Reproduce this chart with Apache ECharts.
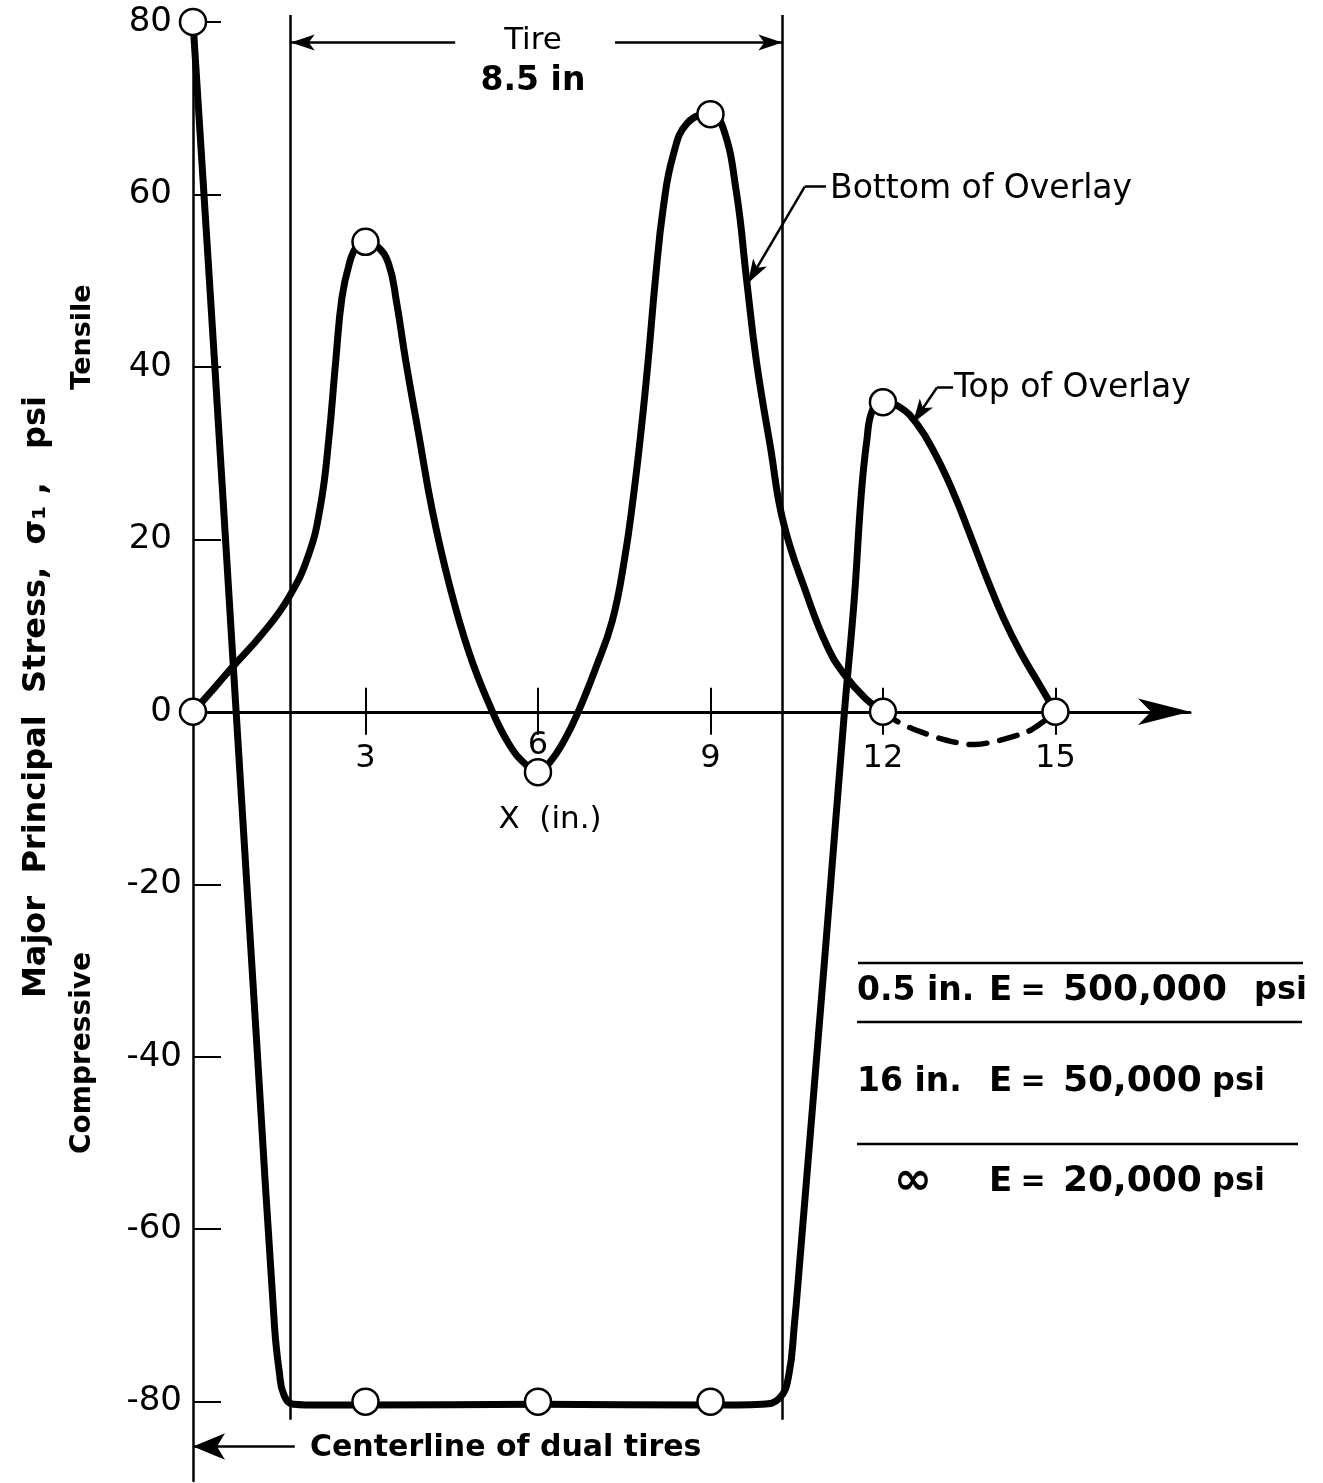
<!DOCTYPE html>
<html><head><meta charset="utf-8">
<script src="https://cdn.jsdelivr.net/npm/echarts@6/dist/echarts.min.js"></script>
<style>html,body{margin:0;padding:0;background:#fff}#c{width:1323px;height:1483px}</style>
</head><body><div id="c"></div>
<script>
// ---- data ----
const xTickValues = [3, 6, 9, 12, 15];
const yTickValues = [-80, -60, -40, -20, 0, 20, 40, 60, 80];
const yLabelsPos = [0, 20, 40, 60, 80];
const yLabelsNeg = [-80, -60, -40, -20];
const topOverlay = [
  [0,80],[0.38,40],[0.75,0],[1.1,-37.5],[1.42,-71.5],[1.5,-76.5],[1.58,-79.2],[1.75,-80.3],
  [2.2,-80.4],[3,-80.4],[6,-80.3],[9,-80.4],[9.9,-80.3],[10.2,-79.6],[10.36,-77],[10.46,-71],
  [10.55,-64],[11.0,-27.5],[11.33,0],[11.5,13],[11.62,25],[11.72,31.5],[11.82,35],[12,35.9],
  [12.3,35.3],[12.6,33.3],[12.9,30],[13.2,25.8],[13.5,20.8],[13.8,15.6],[14.1,10.8],
  [14.4,6.8],[14.7,3.4],[15,0]
];
const bottomOverlay = [
  [0,0],[0.35,2.6],[0.7,5.3],[1.2,9],[1.66,13.2],[2.01,18.2],[2.22,24],[2.36,31.5],[2.48,40.5],
  [2.59,48],[2.72,52],[2.85,54],[3,54.5],[3.2,54],[3.4,52],[3.54,47.5],[3.7,40.7],[3.93,32],
  [4.16,23.4],[4.46,14.7],[4.8,6.9],[5.15,0.9],[5.5,-3.8],[5.8,-6.2],[6,-7],[6.2,-5.9],
  [6.45,-3.4],[6.7,0],[7.0,5],[7.29,10.5],[7.5,17.5],[7.66,25],[7.8,33],[7.92,41],[8.04,50],
  [8.18,58.5],[8.35,64.5],[8.6,68.3],[9,69.3],[9.22,67.7],[9.45,60.3],[9.63,50],
  [9.8,40.6],[10.04,30.8],[10.27,21.9],[10.68,13.5],[11.03,7.6],[11.32,4.4],[11.7,1.5],[12,0]
];
const bottomOverlayDashed = [
  [12,0],[12.3,-1.3],[12.77,-2.6],[13.3,-3.6],[13.6,-3.8],[13.9,-3.5],[14.3,-2.8],[14.6,-2.0],[15,0]
];
const topMarkers = [[0,80],[3,-80],[6,-80],[9,-80],[12,35.9],[15,0]];
const bottomMarkers = [[0,0],[3,54.5],[6,-7],[9,69.3],[12,0]];
const tireEdges = [1.7, 10.25];
const layerRows = [
  ['0.5 in.', 'E', '=', '500,000', 'psi'],
  ['16 in.', 'E', '=', '50,000', 'psi'],
  ['\u221E', 'E', '=', '20,000', 'psi']
];

// ---- chart ----
const FF = '"DejaVu Sans"';
const chart = echarts.init(document.getElementById('c'), null, {renderer: 'canvas'});

const GRID_TOP = 15, GRID_BOTTOM = 2, H = 1483;
const Y_MIN = -89.2, Y_MAX = 80.8;
const gridH = H - GRID_TOP - GRID_BOTTOM;
const zeroPx = GRID_TOP + gridH * (Y_MAX / (Y_MAX - Y_MIN));

function curve(data, width, dash) {
  return {
    type: 'line', data: data, smooth: 0.45, symbol: 'none', showSymbol: false, silent: true,
    clip: false, z: 5,
    lineStyle: {color: '#000', width: width, type: dash || 'solid', cap: 'round', join: 'round'}
  };
}
function markers(data) {
  return {
    type: 'scatter', data: data, symbol: 'circle', symbolSize: 26, silent: true, clip: false, z: 10,
    itemStyle: {color: '#fff', borderColor: '#000', borderWidth: 2.5, opacity: 1}
  };
}
function seg(a, b, arrowEnd, size) {
  const end = {coord: b};
  if (arrowEnd) { end.symbol = 'arrow'; end.symbolSize = size || [12, 24]; }
  return [{coord: a, symbol: 'none'}, end];
}

const graphics = [];
function txt(text, x, y, size, weight, align, rot) {
  graphics.push({
    type: 'text', x: x, y: y, rotation: rot || 0, silent: true, z: 20,
    style: {text: text, fill: '#000', font: (weight || 'normal') + ' ' + size + 'px ' + FF,
      align: align || 'left', textAlign: align || 'left', verticalAlign: 'middle', textVerticalAlign: 'middle'}
  });
}
function rule(x1, x2, y) {
  graphics.push({type: 'line', silent: true, shape: {x1: x1, y1: y, x2: x2, y2: y},
    style: {stroke: '#000', lineWidth: 2.5}});
}

// axis titles
txt('Major  Principal  Stress,  \u03C3\u2081 ,   psi', 37, 697, 32, 'bold', 'center', Math.PI / 2);
txt('Tensile', 83, 337, 27, 'bold', 'center', Math.PI / 2);
txt('Compressive', 83, 1053, 28, 'bold', 'center', Math.PI / 2);
txt('X  (in.)', 550, 820, 31, 'normal', 'center');
// tire annotation
txt('Tire', 533, 41, 31, 'normal', 'center');
txt('8.5 in', 533, 81, 33, 'bold', 'center');
// curve labels
txt('Bottom of Overlay', 830, 189, 33, 'normal', 'left');
txt('Top of Overlay', 954, 388, 33, 'normal', 'left');
txt('Centerline of dual tires', 310, 1448, 30, 'bold', 'left');
// layer table
rule(858, 1303, 963);
rule(857, 1302, 1022);
rule(857, 1298, 1144);
const rowY = [991, 1082, 1182];
layerRows.forEach(function (r, i) {
  const y = rowY[i];
  if (i === 2) txt(r[0], 913, y, 46, 'bold', 'center'); else txt(r[0], 857, y, 33, 'bold', 'left');
  txt(r[1], 989, y, 34, 'bold', 'left');
  txt(r[2], 1033, y, 30, 'bold', 'center');
  txt(r[3], 1063, y, 36, 'bold', 'left');
  txt(r[4], i === 0 ? 1254 : 1212, y, 32, 'bold', 'left');
});

const yAxisCommon = {
  type: 'value', min: Y_MIN, max: Y_MAX, position: 'left',
  splitLine: {show: false}
};
const labelFont = {color: '#000', fontSize: 34, fontFamily: 'DejaVu Sans'};

const option = {
  animation: false,
  backgroundColor: '#fff',
  grid: {left: 193, right: 133, top: GRID_TOP, bottom: GRID_BOTTOM, containLabel: false, outerBoundsMode: 'none'},
  xAxis: [{
    type: 'value', min: 0, max: 17.34, position: 'bottom', offset: -(H - GRID_BOTTOM - zeroPx),
    axisLine: {show: true, onZero: false, symbol: ['none', 'arrow'], symbolSize: [20, 52],
      lineStyle: {color: '#000', width: 3}},
    axisTick: {show: true, customValues: xTickValues, inside: false, length: 23, lineStyle: {color: '#000', width: 2}},
    axisLabel: Object.assign({show: true, customValues: [3, 9, 12, 15], margin: 31}, labelFont, {fontSize: 32}),
    splitLine: {show: false}
  }, {
    type: 'value', min: 0, max: 17.34, position: 'top', offset: -(zeroPx - GRID_TOP),
    axisLine: {show: false, onZero: false},
    axisTick: {show: true, customValues: xTickValues, inside: false, length: 24, lineStyle: {color: '#000', width: 2}},
    axisLabel: Object.assign({show: true, customValues: [6], inside: true, margin: 18}, labelFont, {fontSize: 32}),
    splitLine: {show: false}
  }],
  yAxis: [Object.assign({}, yAxisCommon, {
    axisLine: {show: true, onZero: false, lineStyle: {color: '#000', width: 2.5}},
    axisTick: {show: true, customValues: yTickValues, inside: true, length: 28, lineStyle: {color: '#000', width: 2}},
    axisLabel: Object.assign({show: true, customValues: yLabelsPos, margin: 21}, labelFont)
  }), Object.assign({}, yAxisCommon, {
    axisLine: {show: false, onZero: false},
    axisTick: {show: false},
    axisLabel: Object.assign({show: true, customValues: yLabelsNeg, margin: 11,
      formatter: function (v) { return '-' + Math.abs(v); }}, labelFont)
  })],
  series: [
    curve(topOverlay, 7),
    curve(bottomOverlay, 7),
    curve(bottomOverlayDashed, 5.5, [18, 13]),
    markers(topMarkers),
    markers(bottomMarkers),
    {
      type: 'line', data: [], silent: true, clip: false, z: 4,
      markLine: {
        silent: true, animation: false, symbol: ['none', 'none'],
        label: {show: false}, emphasis: {disabled: true},
        lineStyle: {color: '#000', width: 2.5, type: 'solid'},
        data: [
          seg([tireEdges[0], 80.8], [tireEdges[0], -82.1]),
          seg([tireEdges[1], 80.8], [tireEdges[1], -82.1]),
          seg([4.56, 77.6], [tireEdges[0], 77.6], true),
          seg([7.34, 77.6], [tireEdges[1], 77.6], true),
          seg([10.64, 60.9], [11.01, 60.9]),
          seg([10.64, 60.9], [9.65, 49.7], true),
          seg([12.94, 37.6], [13.22, 37.6]),
          seg([12.94, 37.6], [12.52, 33.5], true),
          seg([1.77, -85.2], [0, -85.2], true, [20, 32])
        ]
      }
    }
  ],
  graphic: graphics
};
chart.setOption(option);
</script></body></html>
